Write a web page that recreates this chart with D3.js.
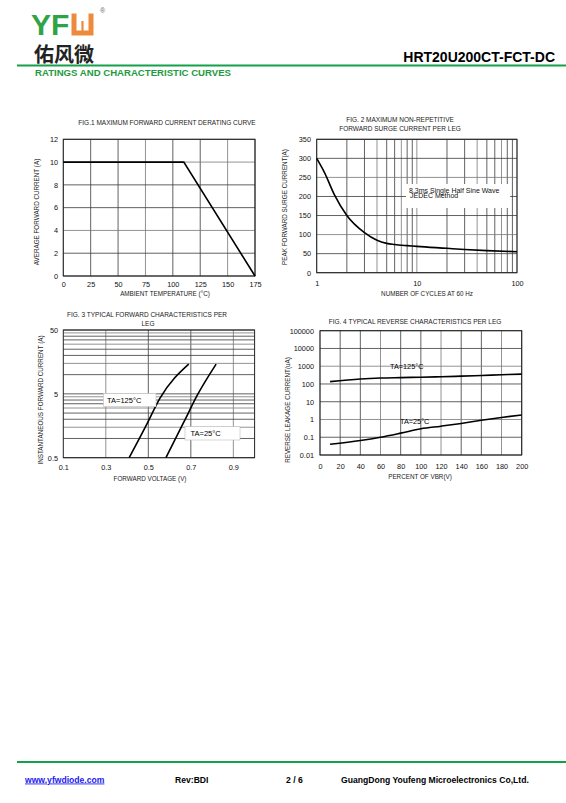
<!DOCTYPE html>
<html>
<head>
<meta charset="utf-8">
<script src="https://cdn.jsdelivr.net/npm/d3@7"></script>
<style>
  body { margin: 0; background: #fff; }
  svg { display: block; font-family: "Liberation Sans", Arial, sans-serif; }
</style>
</head>
<body>
<svg id="page" width="566" height="803"></svg>
<script>
// ---- data ----
// fig.1 derating curve
const fig1Temp = [0, 110, 175];
const fig1Current = [10, 10, 0];
const fig1XTicks = [0, 25, 50, 75, 100, 125, 150, 175];
const fig1YTicks = [0, 2, 4, 6, 8, 10, 12];

// fig.2 surge current
const fig2Cycles = [1, 1.2, 1.5, 2, 3, 4, 5, 6, 7, 8, 10, 20, 30, 50, 100];
const fig2Surge = [300, 262, 205, 150, 105, 85, 77, 74, 72, 71, 69, 64, 61, 58, 55];
const fig2XTicks = [1, 10, 100];
const fig2YTicks = [0, 50, 100, 150, 200, 250, 300, 350];

// fig.3 forward characteristics
const fig3Volt125 = [0.41, 0.49, 0.555, 0.69];
const fig3Amp125 = [0.5, 1.6, 4.3, 14.6];
const fig3Volt25 = [0.583, 0.668, 0.731, 0.819];
const fig3Amp25 = [0.5, 1.83, 4.8, 14.6];
const fig3XTicks = [0.1, 0.3, 0.5, 0.7, 0.9];
const fig3YTicks = [0.5, 5, 50];

// fig.4 reverse characteristics
const fig4Percent = [10, 40, 60, 80, 100, 120, 140, 160, 180, 200];
const fig4Leak125 = [135, 190, 215, 228, 240, 255, 275, 300, 330, 360];
const fig4Leak25 = [0.04, 0.065, 0.1, 0.17, 0.3, 0.42, 0.6, 0.9, 1.3, 1.8];
const fig4XTicks = [0, 20, 40, 60, 80, 100, 120, 140, 160, 180, 200];
const fig4YTicks = [0.01, 0.1, 1, 10, 100, 1000, 10000, 100000];

const svg = d3.select("#page");
const green = "#13a24a";

// ---- header ----
svg.append("text").attr("x", 31).attr("y", 35)
  .attr("font-size", 30).attr("font-weight", "bold").attr("fill", "#2ea446")
  .text("YF");
svg.append("path")
  .attr("d", "M74,13.5 V33 H91 V13.5")
  .attr("fill", "none").attr("stroke", "#ee8a3c").attr("stroke-width", 5);
svg.append("line").attr("x1", 82.5).attr("x2", 82.5).attr("y1", 21).attr("y2", 31)
  .attr("stroke", "#ee8a3c").attr("stroke-width", 2.2);
svg.append("text").attr("x", 100).attr("y", 13).attr("font-size", 7).attr("fill", "#666").text("®");
svg.append("text").attr("x", 34).attr("y", 61.5)
  .attr("font-family", "'Noto Sans CJK SC'").attr("font-size", 20).attr("font-weight", "bold")
  .attr("fill", "#222").text("佑风微");
svg.append("text").attr("x", 555).attr("y", 61.5).attr("text-anchor", "end")
  .attr("font-size", 14).attr("font-weight", "bold").text("HRT20U200CT-FCT-DC");
svg.append("line").attr("x1", 17).attr("x2", 566).attr("y1", 65.5).attr("y2", 65.5)
  .attr("stroke", green).attr("stroke-width", 2);
svg.append("text").attr("x", 35).attr("y", 76)
  .attr("font-size", 9.6).attr("font-weight", "bold").attr("fill", "#1f9a40")
  .text("RATINGS AND CHARACTERISTIC CURVES");

// ---- footer ----
svg.append("line").attr("x1", 17).attr("x2", 566).attr("y1", 762).attr("y2", 762)
  .attr("stroke", green).attr("stroke-width", 2);
const foot = svg.append("g").attr("font-size", 8.6).attr("font-weight", "bold");
foot.append("text").attr("x", 25).attr("y", 782.5).attr("fill", "#1a1aee")
  .attr("text-decoration", "underline").text("www.yfwdiode.com");
foot.append("text").attr("x", 175).attr("y", 782.5).text("Rev:BDI");
foot.append("text").attr("x", 286).attr("y", 782.5).text("2 / 6");
foot.append("text").attr("x", 341).attr("y", 782.5).text("GuangDong Youfeng Microelectronics Co,Ltd.");

// ---- helpers ----
function grid(g, x, y, xs, ys, x0, x1, y0, y1) {
  g.selectAll(".gx").data(xs).enter().append("line")
    .attr("x1", d => x(d)).attr("x2", d => x(d)).attr("y1", y0).attr("y2", y1)
    .attr("stroke", (d, i) => i % 3 === 0 ? "#777" : "#3a3a3a").attr("stroke-width", 0.8);
  g.selectAll(".gy").data(ys).enter().append("line")
    .attr("x1", x0).attr("x2", x1).attr("y1", d => y(d)).attr("y2", d => y(d))
    .attr("stroke", (d, i) => i % 3 === 2 ? "#777" : "#3a3a3a").attr("stroke-width", 0.8);
  g.append("rect").attr("x", x0).attr("y", y0).attr("width", x1 - x0).attr("height", y1 - y0)
    .attr("fill", "none").attr("stroke", "#222").attr("stroke-width", 1);
}

function ticks(g, x, y, xTicks, yTicks, xt, yl, fmt) {
  g.append("g").attr("transform", "translate(0," + xt + ")")
    .call(d3.axisBottom(x).tickValues(xTicks).tickSize(0).tickPadding(4).tickFormat(fmt || (d => d)))
    .call(a => a.select(".domain").remove())
    .selectAll("text").attr("font-size", 7.3).attr("font-family", "Liberation Sans").attr("fill", "#111");
  g.append("g").attr("transform", "translate(" + yl + ",0)")
    .call(d3.axisLeft(y).tickValues(yTicks).tickSize(0).tickPadding(3).tickFormat(d => d))
    .call(a => a.select(".domain").remove())
    .selectAll("text").attr("font-size", 7.3).attr("font-family", "Liberation Sans").attr("fill", "#111");
}

function label(g, txt, x, y, rot, size) {
  const t = g.append("text").attr("text-anchor", "middle").attr("font-size", size || 6.3)
    .attr("fill", "#222").text(txt);
  if (rot) t.attr("transform", "translate(" + x + "," + y + ") rotate(-90)");
  else t.attr("x", x).attr("y", y);
}

function curve(g, x, y, xs, ys) {
  g.append("path").datum(xs.map((d, i) => [d, ys[i]]))
    .attr("d", d3.line().x(d => x(d[0])).y(d => y(d[1])).curve(d3.curveMonotoneX))
    .attr("fill", "none").attr("stroke", "#000").attr("stroke-width", 1.6);
}

// ---- fig 1 ----
{
  const g = svg.append("g");
  const x = d3.scaleLinear().domain([0, 175]).range([63.3, 255]);
  const y = d3.scaleLinear().domain([0, 12]).range([276, 139.3]);
  grid(g, x, y, fig1XTicks, fig1YTicks, 63.3, 255, 139.3, 276);
  g.append("path").datum(fig1Temp.map((d, i) => [d, fig1Current[i]]))
    .attr("d", d3.line().x(d => x(d[0])).y(d => y(d[1])))
    .attr("fill", "none").attr("stroke", "#000").attr("stroke-width", 1.6);
  ticks(g, x, y, fig1XTicks, fig1YTicks, 278, 61);
  label(g, "FIG.1 MAXIMUM FORWARD CURRENT DERATING CURVE", 167, 125, false, 6.5);
  label(g, "AVERAGE FORWARD CURRENT (A)", 39, 212, true);
  label(g, "AMBIENT TEMPERATURE (\u00B0C)", 165, 295.5);
}

// ---- fig 2 ----
{
  const g = svg.append("g");
  const x = d3.scaleLog().domain([1, 100]).range([316.7, 517]);
  const y = d3.scaleLinear().domain([0, 350]).range([272.7, 139.3]);
  const vlines = [1, 2, 3, 4, 5, 6, 7, 8, 9, 10, 20, 30, 40, 50, 60, 70, 80, 90, 100];
  grid(g, x, y, vlines, fig2YTicks, 316.7, 517, 139.3, 272.7);
  g.append("rect").attr("x", 406).attr("y", 184).attr("width", 104).attr("height", 24).attr("fill", "#fff");
  curve(g, x, y, fig2Cycles, fig2Surge);
  ticks(g, x, y, fig2XTicks, fig2YTicks, 277, 314);
  g.append("text").attr("x", 409).attr("y", 192.5).attr("font-size", 7).attr("fill", "#111")
    .text("8.3ms Single Half Sine Wave");
  g.append("text").attr("x", 410).attr("y", 198).attr("font-size", 7).attr("fill", "#111")
    .text("JEDEC Method");
  label(g, "FIG. 2 MAXIMUM NON-REPETITIVE", 400, 122, false, 6.5);
  label(g, "FORWARD SURGE CURRENT PER LEG", 400, 130.5, false, 6.5);
  label(g, "PEAK FORWARD SURGE CURRENT(A)", 287, 207, true);
  label(g, "NUMBER OF CYCLES AT 60 Hz", 427, 295.5);
}

// ---- fig 3 ----
{
  const g = svg.append("g");
  const x = d3.scaleLinear().domain([0.1, 1.0]).range([63.3, 254.6]);
  const y = d3.scaleLog().domain([0.5, 50]).range([457.7, 330]);
  const hlines = d3.range(1, 11).map(k => 0.5 * k).concat(d3.range(2, 11).map(k => 5 * k));
  grid(g, x, y, [0.3, 0.5, 0.7, 0.9], hlines, 63.3, 254.6, 330, 457.7);
  curve(g, x, y, fig3Volt125, fig3Amp125);
  curve(g, x, y, fig3Volt25, fig3Amp25);
  ticks(g, x, y, fig3XTicks, fig3YTicks, 461, 61);
  g.append("rect").attr("x", 103.3).attr("y", 393.3).attr("width", 52.7).attr("height", 13.4)
    .attr("fill", "#fff").attr("stroke", "#bbb").attr("stroke-width", 0.6);
  g.append("text").attr("x", 107).attr("y", 402.8).attr("font-size", 7.5).text("TA=125\u00B0C");
  g.append("rect").attr("x", 185).attr("y", 426.7).attr("width", 55).attr("height", 13.3)
    .attr("fill", "#fff").attr("stroke", "#bbb").attr("stroke-width", 0.6);
  g.append("text").attr("x", 190.5).attr("y", 436.2).attr("font-size", 7.5).text("TA=25\u00B0C");
  label(g, "FIG. 3 TYPICAL FORWARD CHARACTERISTICS PER", 147, 317, false, 6.5);
  label(g, "LEG", 148, 326, false, 6.5);
  label(g, "INSTANTANEOUS FORWARD CURRENT (A)", 43, 400, true);
  label(g, "FORWARD VOLTAGE (V)", 150, 480.5);
}

// ---- fig 4 ----
{
  const g = svg.append("g");
  const x = d3.scaleLinear().domain([0, 200]).range([320, 521.7]);
  const y = d3.scaleLog().domain([0.01, 100000]).range([455, 330.7]);
  grid(g, x, y, fig4XTicks, fig4YTicks, 320, 521.7, 330.7, 455);
  curve(g, x, y, fig4Percent, fig4Leak125);
  curve(g, x, y, fig4Percent, fig4Leak25);
  ticks(g, x, y, fig4XTicks, fig4YTicks, 459.5, 317);
  g.append("text").attr("x", 390).attr("y", 369).attr("font-size", 7.3).text("TA=125\u00B0C");
  g.append("text").attr("x", 400).attr("y", 423.5).attr("font-size", 7.3).text("TA=25\u00B0C");
  label(g, "FIG. 4 TYPICAL REVERSE CHARACTERISTICS PER LEG", 415, 324, false, 6.5);
  label(g, "REVERSE LEAKAGE CURRENT(uA)", 290, 410, true);
  label(g, "PERCENT OF VBR(V)", 420, 479);
}
</script>
</body>
</html>
